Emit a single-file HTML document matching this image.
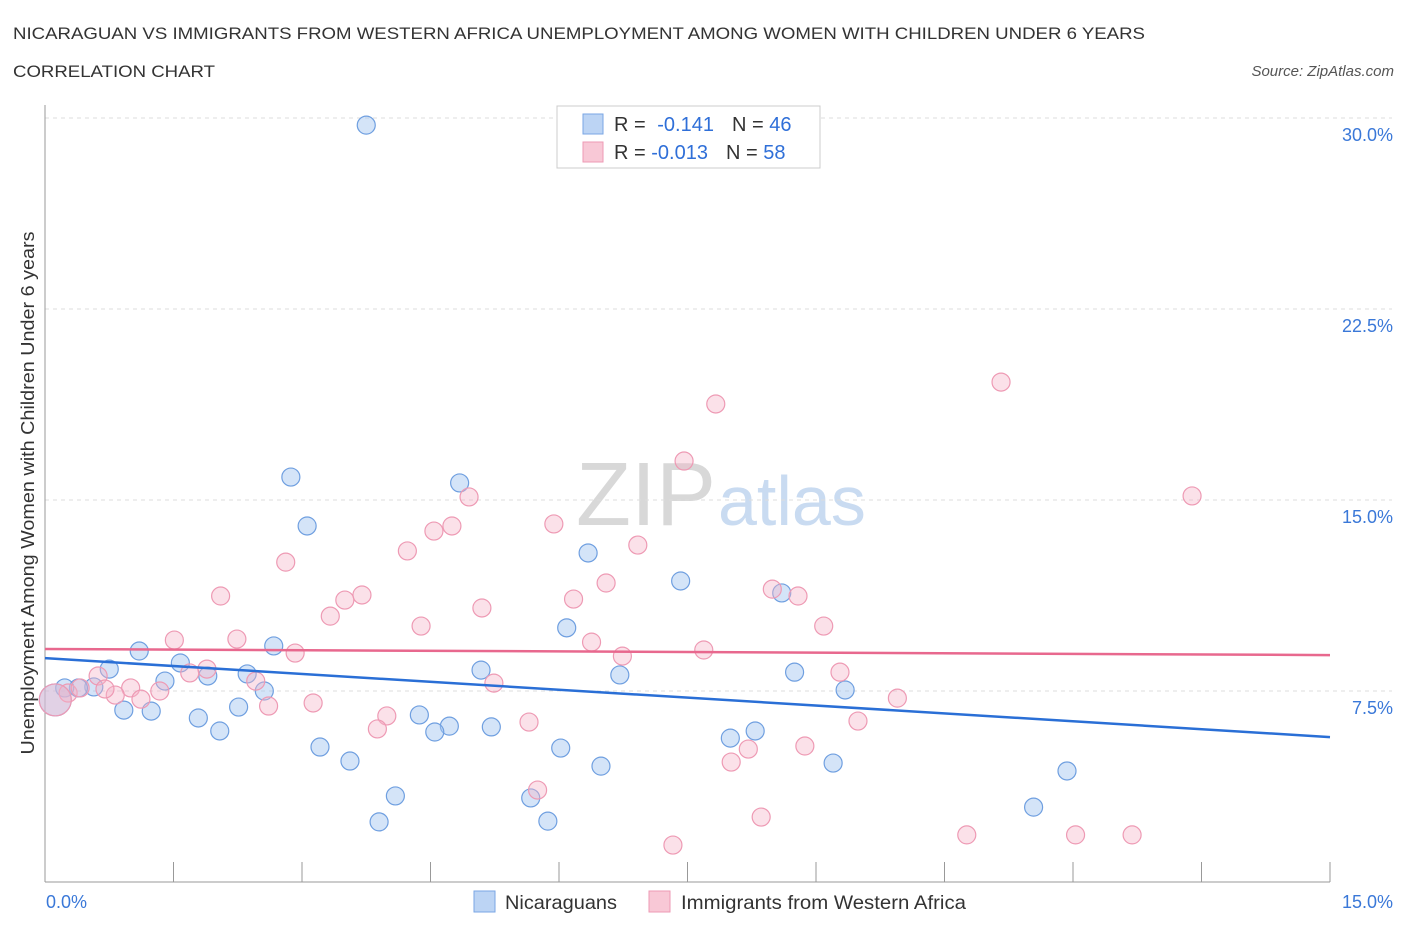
<!DOCTYPE html>
<html><head><meta charset="utf-8"><style>
body{margin:0;background:#fff;font-family:"Liberation Sans",sans-serif}
svg text{font-family:"Liberation Sans",sans-serif}
</style></head><body>
<svg id="c" width="1406" height="930" xmlns="http://www.w3.org/2000/svg">
<text x="13" y="39" font-size="17" fill="#333" textLength="1132" lengthAdjust="spacingAndGlyphs">NICARAGUAN VS IMMIGRANTS FROM WESTERN AFRICA UNEMPLOYMENT AMONG WOMEN WITH CHILDREN UNDER 6 YEARS</text>
<text x="13" y="77" font-size="17" fill="#333" textLength="202" lengthAdjust="spacingAndGlyphs">CORRELATION CHART</text>
<text x="1394" y="76" font-size="15" fill="#555" font-style="italic" text-anchor="end">Source: ZipAtlas.com</text>
<text x="716" y="525" font-size="90" fill="#d8d8d8" text-anchor="end" font-family="Liberation Serif">ZIP</text>
<text x="718" y="525" font-size="70" fill="#c9dbf1">atlas</text>
<g id="grid"></g>
<g id="marks"></g>
<text transform="translate(34,493) rotate(-90)" font-size="18" fill="#333" text-anchor="middle" textLength="523" lengthAdjust="spacingAndGlyphs">Unemployment Among Women with Children Under 6 years</text>
<rect x="557" y="106" width="263" height="62" fill="#fff" stroke="#ccc"/>
<rect x="583" y="114" width="20" height="20" fill="#bcd4f4" stroke="#7aa6e4"/>
<rect x="583" y="142" width="20" height="20" fill="#f8c8d6" stroke="#ee9ab4"/>
<text x="614" y="131" font-size="20" fill="#333">R = <tspan fill="#2f6fd8" dx="6">-0.141</tspan><tspan dx="18">N = </tspan><tspan fill="#2f6fd8">46</tspan></text>
<text x="614" y="159" font-size="20" fill="#333">R = <tspan fill="#2f6fd8">-0.013</tspan><tspan dx="18">N = </tspan><tspan fill="#2f6fd8">58</tspan></text>
<rect x="474" y="891" width="21" height="21" fill="#bcd4f4" stroke="#7aa6e4"/>
<text x="505" y="909" font-size="19.5" fill="#333" textLength="112" lengthAdjust="spacingAndGlyphs">Nicaraguans</text>
<rect x="649" y="891" width="21" height="21" fill="#f8c8d6" stroke="#ee9ab4"/>
<text x="681" y="909" font-size="19.5" fill="#333" textLength="285" lengthAdjust="spacingAndGlyphs">Immigrants from Western Africa</text>
</svg>
<script>
const yTicks=[7.5,15,22.5,30];
const yTickLabels=["7.5%","15.0%","22.5%","30.0%"];
const xTickLabels=["0.0%","15.0%"];
const blueX=[3.75,2.87,3.06,4.84,6.34,7.42,8.60,6.09,1.10,2.67,1.58,0.75,1.90,1.40,2.36,5.09,6.71,8.75,0.57,0.39,0.23,2.56,9.34,0.92,1.24,1.79,2.26,2.04,4.37,4.72,4.55,5.21,8.29,8.00,3.21,6.02,3.56,6.49,9.20,11.93,4.09,5.67,11.54,3.90,5.87,0.12];
const blueY=[29.72,15.90,13.98,15.67,12.92,11.82,11.35,9.98,9.07,9.27,8.60,8.36,8.09,7.89,8.17,8.32,8.13,8.24,7.66,7.62,7.62,7.50,7.54,6.75,6.71,6.44,6.87,5.93,6.56,6.12,5.89,6.09,5.93,5.65,5.30,5.26,4.75,4.55,4.67,4.36,3.38,3.30,2.94,2.36,2.39,7.15];
const pinkX=[11.16,7.83,7.46,13.39,4.95,5.94,4.75,4.54,6.92,4.23,2.81,6.55,8.49,8.79,2.05,3.70,6.17,3.50,5.10,3.33,4.39,9.09,1.51,2.24,6.38,2.92,7.69,6.74,1.89,1.69,9.28,2.46,5.24,0.62,1.00,1.34,0.82,1.12,9.95,0.27,3.13,2.61,3.99,5.65,9.49,3.88,8.87,8.21,8.01,5.75,8.36,10.76,12.03,12.69,7.33,0.12,0.41,0.70];
const pinkY=[19.63,18.77,16.53,15.16,15.12,14.06,13.98,13.78,13.23,13.00,12.56,11.74,11.50,11.23,11.23,11.27,11.11,11.07,10.76,10.44,10.05,10.05,9.50,9.54,9.42,8.99,9.11,8.87,8.36,8.21,8.24,7.89,7.81,8.09,7.62,7.50,7.34,7.18,7.22,7.42,7.03,6.91,6.52,6.28,6.32,6.01,5.34,5.22,4.71,3.61,2.55,1.85,1.85,1.85,1.45,7.15,7.62,7.58];
const blueTrend=[8.79,5.69];
const pinkTrend=[9.15,8.91];
const X0=45,X1=1330,Y0=882,Y30=118;
const sx=v=>X0+(X1-X0)*v/15;
const sy=v=>Y0-(Y0-Y30)*v/30;
const NS="http://www.w3.org/2000/svg";
const grid=document.getElementById('grid'),marks=document.getElementById('marks');
function mk(p,tag,a){const e=document.createElementNS(NS,tag);for(const k in a)e.setAttribute(k,a[k]);p.appendChild(e);return e;}
yTicks.forEach((t,i)=>{
 const g=mk(grid,'line',{x1:X0,x2:1392,y1:sy(t),y2:sy(t),stroke:'#ddd','stroke-dasharray':'4,4'});
 
 
 const l=mk(grid,'text',{x:1393,y:sy(t)+23,'font-size':18,fill:'#3a78d8','text-anchor':'end'});
 l.textContent=yTickLabels[i];
 
 
});
const ax=mk(grid,'line',{x1:X0,x2:X0,y1:105,y2:Y0,stroke:'#999'});


const bx=mk(grid,'line',{x1:X0,x2:X1,y1:Y0,y2:Y0,stroke:'#999'});


for(let i=0;i<=10;i++){const v=i*1.5;
 const t=mk(grid,'line',{x1:sx(v),x2:sx(v),y1:862,y2:Y0,stroke:'#999'});
 
 
}
[[0,'start',46],[15,'end',1393]].forEach((d,i)=>{
 const l=mk(grid,'text',{x:d[2],y:908,'font-size':18,fill:'#3a78d8','text-anchor':d[1]});
 l.textContent=xTickLabels[i];
 
 
});
function pts(xs,ys,fill,stroke,name){xs.forEach((x,i)=>{
 const big=(i===xs.length-1&&x<0.2)||(name==='pink-point'&&i===55);
 const c=mk(marks,'circle',{cx:sx(x),cy:sy(ys[i]),r:big?16:9,fill:fill,stroke:stroke,'stroke-width':1.2});
 
 
});}
pts(blueX,blueY,'rgba(160,196,240,0.45)','#6f9fe0','blue-point');
pts(pinkX,pinkY,'rgba(245,180,200,0.4)','#ee9ab4','pink-point');
const bl=mk(marks,'line',{x1:sx(0),y1:sy(blueTrend[0]),x2:sx(15),y2:sy(blueTrend[1]),stroke:'#2a6fd6','stroke-width':2.5});


const pl=mk(marks,'line',{x1:sx(0),y1:sy(pinkTrend[0]),x2:sx(15),y2:sy(pinkTrend[1]),stroke:'#e8688e','stroke-width':2.5});


</script>
</body></html>
